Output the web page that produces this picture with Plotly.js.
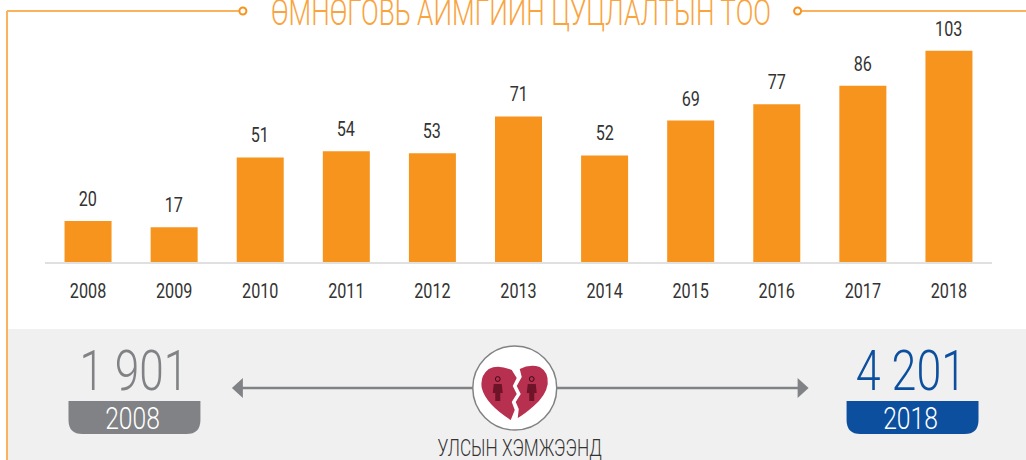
<!DOCTYPE html>
<html><head><meta charset="utf-8">
<script src="https://cdn.plot.ly/plotly-3.0.1.min.js"></script>
<style>html,body{margin:0;padding:0;background:#fff;overflow:hidden}</style>
</head><body><div id="chart" style="width:1026px;height:460px"></div>
<script>
const years = ['2008','2009','2010','2011','2012','2013','2014','2015','2016','2017','2018'];
const divorces = [20,17,51,54,53,71,52,69,77,86,103];
const chartTitle = 'ӨМНӨГОВЬ АЙМГИЙН ЦУЦЛАЛТЫН ТОО';
const nationalLabel = 'УЛСЫН ХЭМЖЭЭНД';
const startValue = '1 901', startYear = '2008';
const endValue = '4 201', endYear = '2018';

const FONT = 'Roboto,"Liberation Sans",sans-serif';
const W = 1026, H = 460, L = 45, R = 992.5, B = 262;
const px = x => (x - L) / (R - L);
const py = y => (B - y) / B;
const P = (x, y) => px(x).toFixed(5) + ',' + py(y).toFixed(5);
const paper = {xref:'paper', yref:'paper'};
const ORANGE = '#f7941d', FRAME = '#fbb25c', GREY = '#808285', BLUE = '#0b4f9e', PANEL = '#f0f0f0';

const line = (x0,y0,x1,y1,color,width) => ({type:'line',...paper,x0:px(x0),y0:py(y0),x1:px(x1),y1:py(y1),line:{color,width}});
const circle = (cx,cy,r,fill,color,width) => ({type:'circle',...paper,x0:px(cx-r),x1:px(cx+r),y0:py(cy+r),y1:py(cy-r),fillcolor:fill,line:{color,width}});
const path = (pts,fill) => ({type:'path',...paper,path:pts,fillcolor:fill,line:{width:0}});
const badge = (x0,x1,y0,y1,r,fill) => path(
  'M'+P(x0,y0)+' L'+P(x1,y0)+' L'+P(x1,y1-r)+' Q'+P(x1,y1)+' '+P(x1-r,y1)+' L'+P(x0+r,y1)+' Q'+P(x0,y1)+' '+P(x0,y1-r)+' Z', fill);

// broken-heart pictogram
const heartL = 'M'+P(512,370)+' Q'+P(498,364)+' '+P(489,369)+' Q'+P(480,376)+' '+P(482,388)+' Q'+P(486,404)+' '+P(511,420)
  +' L'+P(515,410)+' L'+P(512,402)+' L'+P(517,394)+' L'+P(513,386)+' L'+P(517,378)+' Z';
const heartR = 'M'+P(520,369)+' Q'+P(530,364)+' '+P(540,367)+' Q'+P(549,372)+' '+P(548,384)+' Q'+P(546,396)+' '+P(534,406)
  +' Q'+P(525,414)+' '+P(518,418)+' L'+P(519,409)+' L'+P(516,402)+' L'+P(521,394)+' L'+P(517,386)+' L'+P(522,377)+' Z';
const figure = (cx,fill) => [
  circle(cx,379,2.4,'rgba(0,0,0,0)','#3a0a18',1),
  path('M'+P(cx-4,384)+' L'+P(cx+4,384)+' L'+P(cx+5,393)+' L'+P(cx+2.5,393)+' L'+P(cx+2.5,401)+' L'+P(cx-2.5,401)+' L'+P(cx-2.5,393)+' L'+P(cx-5,393)+' Z', fill)
];

const shapes = [
  {type:'rect',...paper,x0:px(8),x1:px(W+3),y0:py(329),y1:py(H+3),fillcolor:PANEL,line:{width:0}},
  line(7,11,7,H+3,FRAME,2),
  line(7,11,239,11,FRAME,2),
  line(802,11,W+3,11,FRAME,2),
  circle(243,11,3.5,'#ffffff',ORANGE,2),
  circle(798,11,3.5,'#ffffff',ORANGE,2),
  line(240,388,800,388,GREY,2.5),
  path('M'+P(232,388)+' L'+P(243,378)+' L'+P(243,398)+' Z',GREY),
  path('M'+P(809,388)+' L'+P(798,378)+' L'+P(798,398)+' Z',GREY),
  circle(515,388,42,'#ffffff',GREY,1.5),
  path(heartL,'#b8304f'),
  path(heartR,'#b8304f'),
  ...figure(498,'#6d1428'),
  ...figure(532,'#6d1428'),
  badge(68.5,200.5,401,434,14,GREY),
  badge(847,979,401,434,14,BLUE)
];

const text = (x,y,t,size,color,weight) => ({xref:'paper',yref:'paper',x:px(x),y:py(y),text:t,showarrow:false,
  xanchor:'center',yanchor:'middle',font:{family:FONT,size,color,weight:weight||400}});

const annotations = [
  ...divorces.map((v,i) => ({x:i,y:v,xref:'x',yref:'y',text:String(v),showarrow:false,
    xanchor:'center',yanchor:'middle',yshift:22,font:{family:FONT,size:21,color:'#333333'}})),
  text(134.5,371,startValue,56,GREY,300),
  text(132.5,418,startYear,32,'#ffffff',300),
  text(911,371,endValue,56,BLUE,300),
  text(911,418,endYear,32,'#ffffff',300),
  text(520,448,nationalLabel,23,'#333333',300)
];

const data = [{type:'bar',x:years,y:divorces,width:0.546,marker:{color:ORANGE,line:{width:0}},hoverinfo:'x+y'}];

const layout = {
  width:W,height:H,autosize:false,showlegend:false,
  paper_bgcolor:'#ffffff',plot_bgcolor:'#ffffff',
  margin:{l:L,r:W-R,t:0,b:H-B,pad:0},
  title:{text:chartTitle,font:{family:FONT,size:36,color:'#f9a43f',weight:300},x:(272+770)/2/W,xanchor:'center',xref:'container',
         y:1-24.5/H,yref:'container',yanchor:'bottom'},
  xaxis:{type:'category',categoryorder:'array',categoryarray:years,range:[-0.5,10.5],fixedrange:true,
    showline:true,linecolor:'#e0e0e0',linewidth:2,ticks:'',showgrid:false,zeroline:false,
    tickfont:{family:FONT,size:21,color:'#333333'},ticklabelstandoff:9},
  yaxis:{range:[0,127.8],visible:false,fixedrange:true,showgrid:false,zeroline:false},
  shapes,annotations,bargap:0.454
};
// The source type is a condensed face; none is installed, so real text is narrowed with SVG textLength.
const NARROW = 0.77;
const RATIOS = {[chartTitle]:0.727,[nationalLabel]:0.75,[startValue]:0.79,[endValue]:0.8};
Plotly.newPlot('chart',data,layout,{displayModeBar:false,staticPlot:true}).then(gd => {
  gd.querySelectorAll('svg text').forEach(t => {
    const w = t.getComputedTextLength();
    const k = RATIOS[t.textContent] || NARROW;
    if (w > 0) { t.setAttribute('lengthAdjust','spacingAndGlyphs'); t.setAttribute('textLength',(w*k).toFixed(1)); }
  });
});
</script></body></html>
